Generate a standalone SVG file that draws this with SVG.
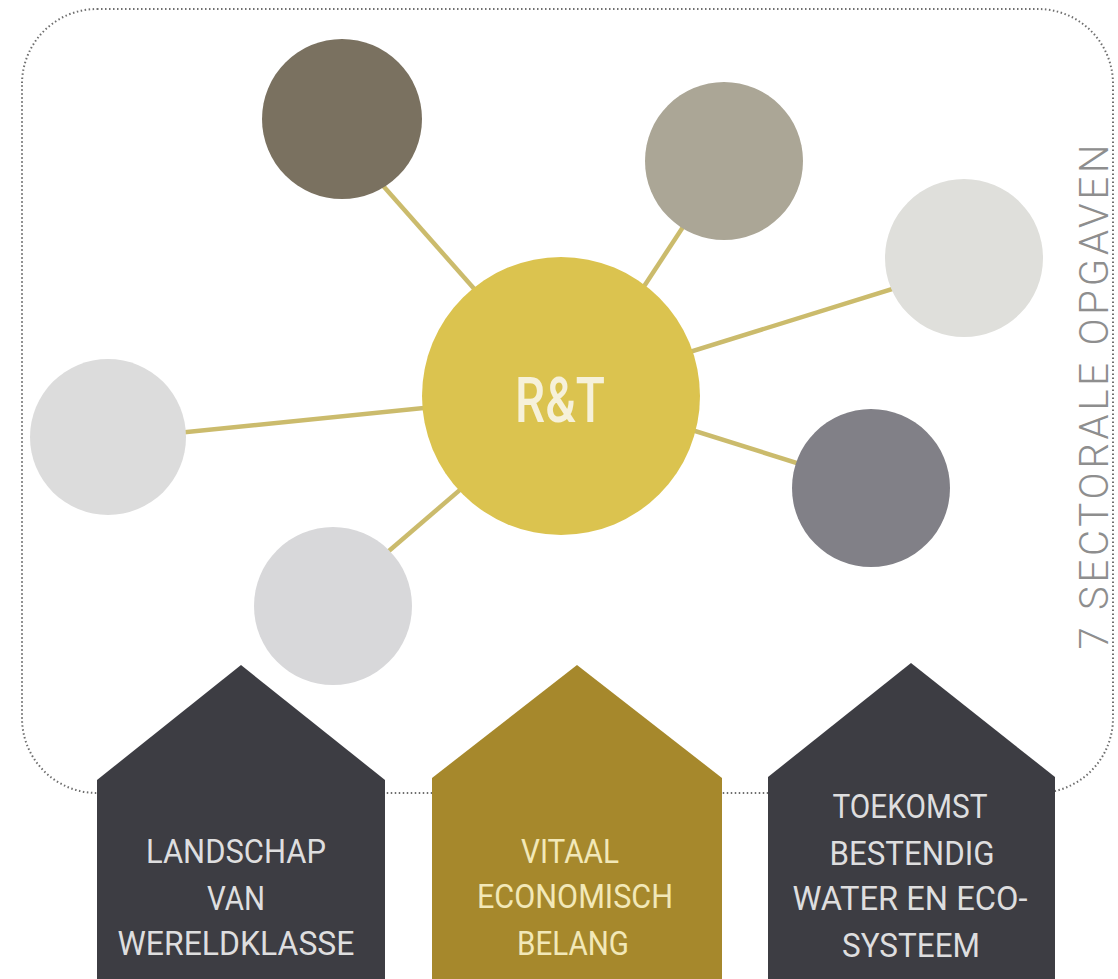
<svg xmlns="http://www.w3.org/2000/svg" width="1118" height="979" viewBox="0 0 1118 979">
<style>
.frame{fill:none;stroke:#6f6f6f;stroke-width:2;stroke-dasharray:1.5 2.5}
.link{stroke:#cbbb6c;stroke-width:4.5;stroke-linecap:butt}
.htxt{font-family:Roboto,"Liberation Sans",sans-serif;font-weight:400;font-size:33px;text-anchor:middle}
.dark{fill:#3d3d43}
.gold{fill:#a6882c}
.light{fill:#dededf}
.cream{fill:#f2e8b8}
</style>
<rect class="frame" x="22" y="9" width="1091" height="784" rx="75" ry="75"/>
<g id="connectors">
<line class="link" x1="324" y1="119" x2="569" y2="396"/>
<line class="link" x1="727" y1="160" x2="572" y2="396"/>
<line class="link" x1="963" y1="267" x2="561" y2="392"/>
<line class="link" x1="108" y1="440" x2="561" y2="394"/>
<line class="link" x1="870" y1="486" x2="561" y2="389"/>
<line class="link" x1="333" y1="599" x2="561" y2="403"/>
</g>
<g id="node-c1"><circle cx="342" cy="119" r="80" fill="#7a7160"/></g>
<g id="node-c2"><circle cx="724" cy="161" r="79" fill="#aba696"/></g>
<g id="node-c3"><circle cx="964" cy="258" r="79" fill="#dfdfdb"/></g>
<g id="node-c4"><circle cx="108" cy="437" r="78" fill="#dcdcdc"/></g>
<g id="node-c5"><circle cx="871" cy="488" r="79" fill="#818087"/></g>
<g id="node-c6"><circle cx="333" cy="606" r="79" fill="#d8d8da"/></g>
<g id="node-rt">
<circle cx="561" cy="396" r="139" fill="#dbc34f"/>
<text x="560" y="422" font-family="Roboto,'Liberation Sans',sans-serif" font-weight="500" font-size="63" fill="#f6f1da" text-anchor="middle" textLength="90" lengthAdjust="spacingAndGlyphs">R&amp;T</text>
</g>
<g id="label-side">
<text transform="translate(1108,397) rotate(-90)" x="0" y="0" font-family="Roboto,'Liberation Sans',sans-serif" font-weight="300" font-size="40" fill="#8e8e8e" text-anchor="middle" textLength="505" lengthAdjust="spacing">7 SECTORALE OPGAVEN</text>
</g>
<g id="house-1">
<path class="dark" d="M97,979 V780 L241,665 L385,780 V979 Z"/>
<text class="htxt light" x="236" y="863" textLength="180" lengthAdjust="spacingAndGlyphs">LANDSCHAP</text>
<text class="htxt light" x="236" y="910" textLength="58" lengthAdjust="spacingAndGlyphs">VAN</text>
<text class="htxt light" x="236" y="955" textLength="237" lengthAdjust="spacingAndGlyphs">WERELDKLASSE</text>
</g>
<g id="house-2">
<path class="gold" d="M432,979 V778 L577,665 L722,778 V979 Z"/>
<text class="htxt cream" x="570" y="863" textLength="98" lengthAdjust="spacingAndGlyphs">VITAAL</text>
<text class="htxt cream" x="575" y="908" textLength="196" lengthAdjust="spacingAndGlyphs">ECONOMISCH</text>
<text class="htxt cream" x="573" y="955" textLength="112" lengthAdjust="spacingAndGlyphs">BELANG</text>
</g>
<g id="house-3">
<path class="dark" d="M768,979 V777 L911,663 L1055,777 V979 Z"/>
<text class="htxt light" x="910" y="818" textLength="155" lengthAdjust="spacingAndGlyphs">TOEKOMST</text>
<text class="htxt light" x="912" y="865" textLength="165" lengthAdjust="spacingAndGlyphs">BESTENDIG</text>
<text class="htxt light" x="910" y="910" textLength="235" lengthAdjust="spacingAndGlyphs">WATER EN ECO-</text>
<text class="htxt light" x="911" y="957" textLength="138" lengthAdjust="spacingAndGlyphs">SYSTEEM</text>
</g>
</svg>
